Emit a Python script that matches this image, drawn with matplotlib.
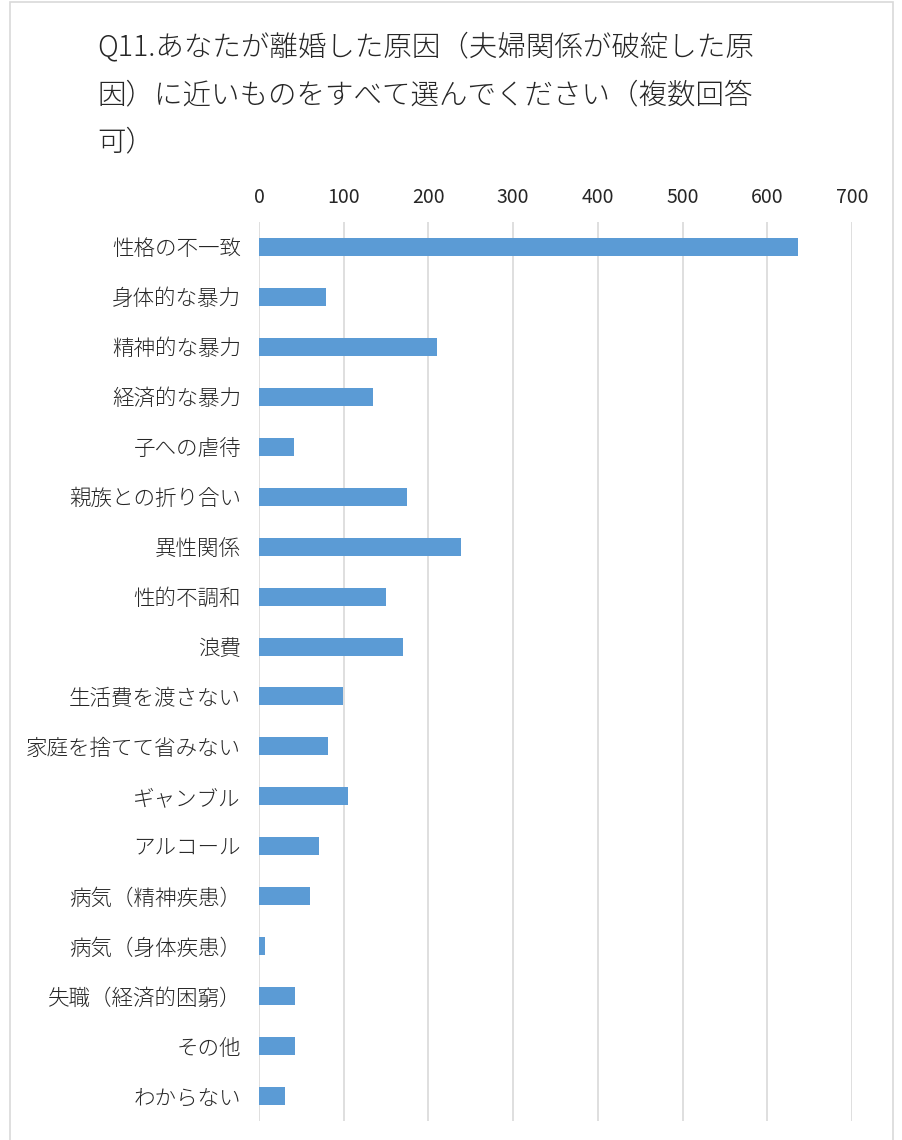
import matplotlib.pyplot as plt
from matplotlib.patches import Rectangle

plt.rcParams['font.family'] = ['Noto Sans CJK JP', 'DejaVu Sans']

categories = [
    '性格の不一致', '身体的な暴力', '精神的な暴力', '経済的な暴力', '子への虐待',
    '親族との折り合い', '異性関係', '性的不調和', '浪費', '生活費を渡さない',
    '家庭を捨てて省みない', 'ギャンブル', 'アルコール', '病気（精神疾患）',
    '病気（身体疾患）', '失職（経済的困窮）', 'その他', 'わからない',
]
counts = [636, 79, 210, 135, 41, 175, 238, 150, 170, 99, 81, 105, 71, 60, 7, 43, 43, 31]
x_ticks = [0, 100, 200, 300, 400, 500, 600, 700]
title = 'Q11.あなたが離婚した原因（夫婦関係が破綻した原\n因）に近いものをすべて選んでください（複数回答\n可）'

fig = plt.figure(figsize=(9.02, 11.40), dpi=100, facecolor='white')

# chart border
fig.patches.append(Rectangle((10 / 902, -0.01), 883 / 902, 1.0 - 2 / 1140 + 0.01,
                             transform=fig.transFigure, fill=False,
                             edgecolor='#D9D9D9', linewidth=1.2))

ax = fig.add_axes([259 / 902, 1 - 1121 / 1140, 593 / 902, (1121 - 222) / 1140])

ypos = list(range(len(categories)))
ax.barh(ypos, counts, height=0.36, color='#5B9BD5', zorder=3)

ax.set_xlim(0, 700)
ax.set_ylim(len(categories) - 0.5, -0.5)
ax.set_xticks(x_ticks)
ax.set_xticklabels([str(t) for t in x_ticks], fontsize=14, color='#262626')
ax.set_yticks(ypos)
ax.set_yticklabels(categories, fontsize=15.5, color='#262626', fontweight='light')
ax.xaxis.tick_top()
ax.tick_params(axis='x', length=0, pad=10)
ax.tick_params(axis='y', length=0, pad=13)

ax.grid(axis='x', color='#D9D9D9', linewidth=1.2, zorder=0)
for s in ax.spines.values():
    s.set_visible(False)

fig.text(97 / 902, 1 - 32 / 1140, title, fontsize=20.5, color='#262626',
         va='top', ha='left', linespacing=1.72, fontweight='light')

fig.savefig('out.png', dpi=100, facecolor='white')
